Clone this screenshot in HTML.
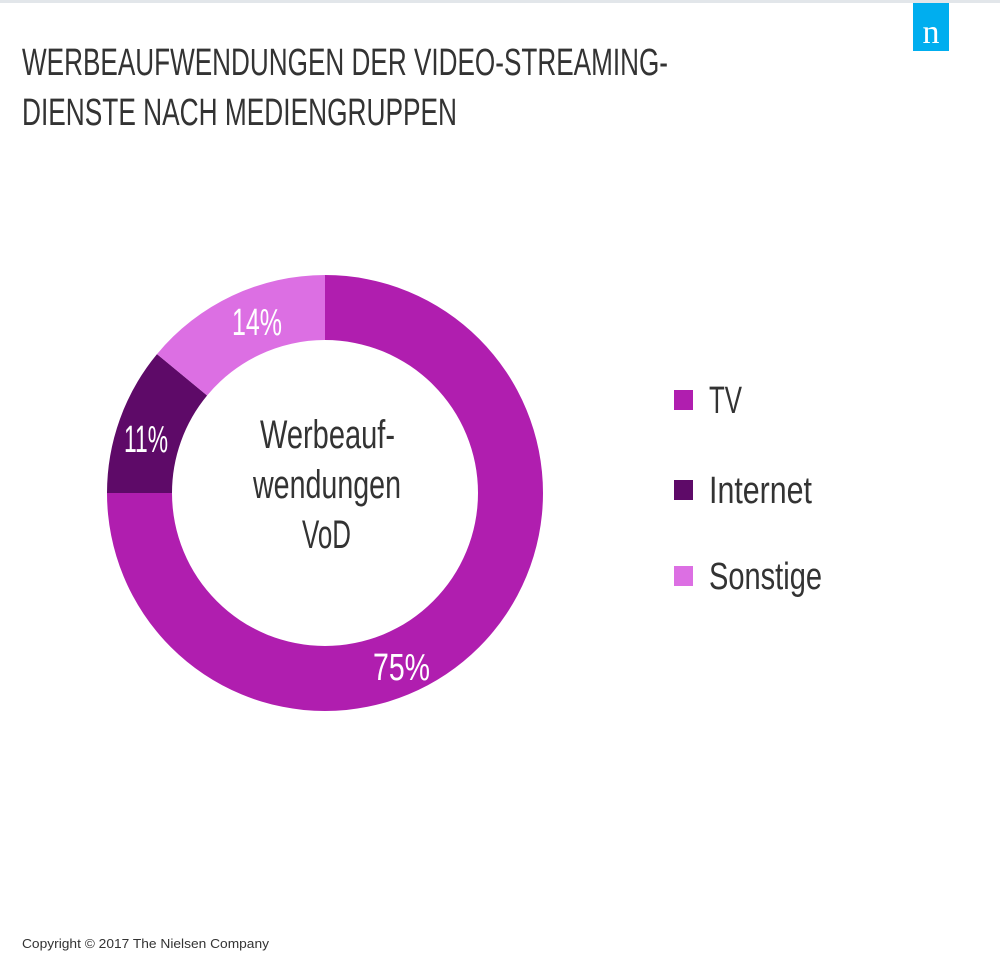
<!DOCTYPE html>
<html><head><meta charset="utf-8"><style>
html,body{margin:0;padding:0;background:#fff;}
svg{display:block;}
</style></head><body>
<svg width="1000" height="968" viewBox="0 0 1000 968" xmlns="http://www.w3.org/2000/svg">
<rect x="0" y="0" width="1000" height="3" fill="#e2e6ea"/>
<rect x="913" y="3" width="36" height="48" fill="#00aeef"/>
<text x="931" y="43" font-family="Liberation Serif, serif" font-size="34" fill="#fff" text-anchor="middle">n</text>
<g font-family="'Liberation Sans Narrow','Liberation Sans',sans-serif" fill="#333">
<text x="22" y="75" font-size="38" textLength="646" lengthAdjust="spacingAndGlyphs">WERBEAUFWENDUNGEN DER VIDEO-STREAMING-</text>
<text x="22" y="125" font-size="38" textLength="435" lengthAdjust="spacingAndGlyphs">DIENSTE NACH MEDIENGRUPPEN</text>
</g>
<path d="M325,275 A218,218 0 1 1 107,493 L172,493 A153,153 0 1 0 325,340 Z" fill="#b01eaf"/>
<path d="M107,493 A218,218 0 0 1 157,354.1 L207.1,395.5 A153,153 0 0 0 172,493 Z" fill="#5e0a68"/>
<path d="M157,354.1 A218,218 0 0 1 325,275 L325,340 A153,153 0 0 0 207.1,395.5 Z" fill="#dc6fe3"/>
<g font-family="'Liberation Sans Narrow','Liberation Sans',sans-serif">
<text x="232" y="335" font-size="38" fill="#fff" textLength="50" lengthAdjust="spacingAndGlyphs">14%</text>
<text x="124" y="452" font-size="38" fill="#fff" textLength="44" lengthAdjust="spacingAndGlyphs">11%</text>
<text x="373" y="680" font-size="38" fill="#fff" textLength="57" lengthAdjust="spacingAndGlyphs">75%</text>
<text x="260" y="448" font-size="40" fill="#333" textLength="135" lengthAdjust="spacingAndGlyphs">Werbeauf-</text>
<text x="253" y="498" font-size="40" fill="#333" textLength="148" lengthAdjust="spacingAndGlyphs">wendungen</text>
<text x="302" y="548" font-size="40" fill="#333" textLength="49" lengthAdjust="spacingAndGlyphs">VoD</text>
<rect x="674" y="390" width="19" height="20" fill="#b01eaf"/>
<rect x="674" y="480" width="19" height="20" fill="#5e0a68"/>
<rect x="674" y="566" width="19" height="20" fill="#dc6fe3"/>
<text x="709" y="413" font-size="38" fill="#333" textLength="33" lengthAdjust="spacingAndGlyphs">TV</text>
<text x="709" y="503" font-size="38" fill="#333" textLength="103" lengthAdjust="spacingAndGlyphs">Internet</text>
<text x="709" y="589" font-size="38" fill="#333" textLength="113" lengthAdjust="spacingAndGlyphs">Sonstige</text>
</g>
<text x="22" y="948" font-family="'Liberation Sans',sans-serif" font-size="13" fill="#333" textLength="247" lengthAdjust="spacingAndGlyphs">Copyright © 2017 The Nielsen Company</text>
</svg>
</body></html>
